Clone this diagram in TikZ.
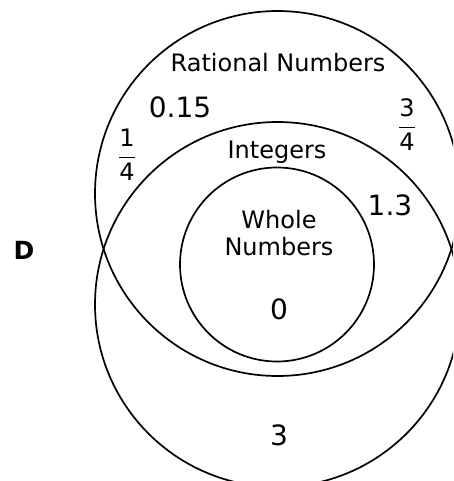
\documentclass[tikz,border=0pt]{standalone}
\usepackage{amsmath}
\usepackage{fontspec}
\setmainfont{DejaVu Sans}
\usetikzlibrary{positioning}
\tikzset{setring/.style={circle,draw,line width=1.7pt,inner sep=0pt},title/.style={font=\fontsize{24}{27}\selectfont,align=center,inner sep=0pt},elem/.style={font=\fontsize{28}{32}\selectfont,inner sep=0pt}}

\begin{document}
\begin{tikzpicture}[x=1pt,y=-1pt]
\clip (0,0) rectangle (453,481);
\node[setring, minimum size=365pt] (upper) at (277.5,193.5) {};
\node[setring, minimum size=365pt] (lower) at (277.5,304.5) {};
\node[setring, minimum size=194pt] (whole) at (277,264.5) {};
\node[title, anchor=base] (rattxt) at (278,72) {Rational Numbers};
\node[title, anchor=base] (inttxt) at (277,158) {Integers};
\node[title] (wholetxt) at (279,233) {Whole\\Numbers};
\node[elem, anchor=base] (zero) at (279,319) {0};
\node[elem, anchor=base] (dec) at (180,118) {0.15};
\node[elem, anchor=base] (onethree) at (390,215) {1.3};
\node[elem, anchor=base] (three) at (279,445) {3};
\node[title] (quarter) at (127,155) {$\dfrac{\mbox{1}}{\mbox{4}}$};
\node[title] (threeq) at (407,125) {$\dfrac{\mbox{3}}{\mbox{4}}$};
\node[title, font=\fontsize{25}{27}\selectfont\bfseries, anchor=base] (dlabel) at (24,259) {D};
\end{tikzpicture}
\end{document}
